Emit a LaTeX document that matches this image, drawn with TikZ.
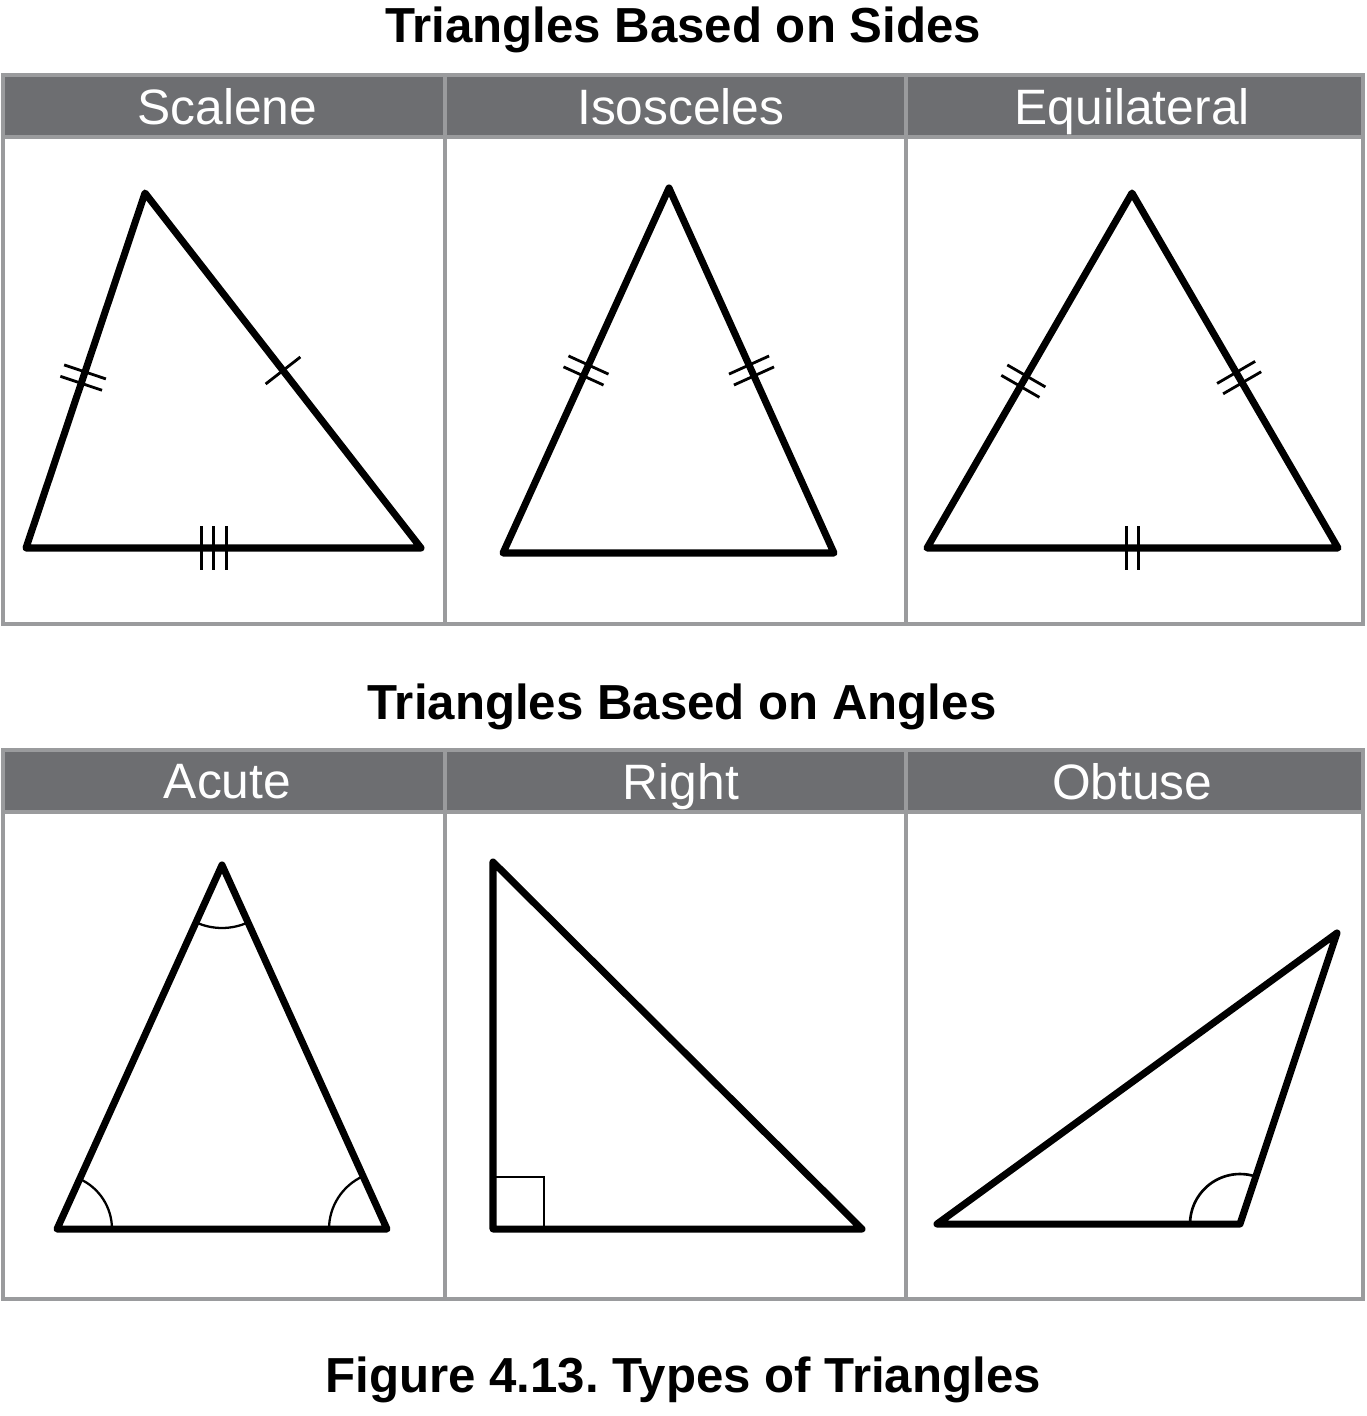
\documentclass[tikz,border=0pt]{standalone}
\usepackage{fontspec}
\setmainfont{Liberation Sans}
\usepackage{tikz}
\usetikzlibrary{positioning,calc,angles}
\definecolor{hdgray}{HTML}{6D6E71}
\definecolor{rulegray}{HTML}{9A9B9D}
\tikzset{
  hcell/.style={rectangle, draw=rulegray, fill=hdgray, line width=2.2pt, text=white,
                inner sep=0pt, outer sep=0pt, minimum height=1.24cm, anchor=north west,
                font=\fontsize{28.3}{32}\selectfont, text depth=0pt, align=center},
  bcell/.style={rectangle, draw=rulegray, line width=2.2pt, inner sep=0pt, outer sep=0pt,
                minimum height=9.75cm, anchor=north west},
  ttl/.style  ={font=\fontsize{28}{32}\selectfont\bfseries\frenchspacing, anchor=base, inner sep=0pt},
  tri/.style  ={line width=4pt, line join=round, line cap=round},
  tk/.style   ={line width=1.6pt},
  ang/.style  ={draw, line width=1.3pt},
}
\newcommand{\sidetick}[4]{% side #1--#2, at fraction #3, moved #4 along the side
  \coordinate (tm) at ($(#1)!#3!(#2)$);
  \coordinate (tn) at ($(tm)!#4!(#2)$);
  \draw[tk] ($(tn)!0.44cm!90:(#2)$) -- ($(tn)!0.44cm!-90:(#2)$);}

\begin{document}
\begin{tikzpicture}[x=0.02cm, y=-0.02cm]
  \useasboundingbox (0,0) rectangle (1366,1416);
  % titles
  \node[ttl] (tsides)  at (683,43)   {Triangles Based on Sides};
  \node[ttl] (tangles) at (682,719)  {Triangles Based on Angles};
  \node[ttl] (tfig)    at (683,1392) {Figure 4.13. Types of Triangles};
  % table 1
  \node[hcell, text width=8.84cm] (hsc) at (3,75) {\hspace*{0.14cm}Scalene};
  \node[hcell, text width=9.22cm, right=0mm of hsc] (his) {\hspace*{0.22cm}Isosceles};
  \node[hcell, text width=9.14cm, right=0mm of his] (heq) {Equilateral\hspace*{0.08cm}};
  \node[bcell, minimum width=8.84cm, below=0mm of hsc] (bsc) {};
  \node[bcell, minimum width=9.22cm, below=0mm of his] (bis) {};
  \node[bcell, minimum width=9.14cm, below=0mm of heq] (beq) {};
  % table 2
  \node[hcell, text width=8.84cm] (hac) at (3,750) {\hspace*{0.14cm}Acute};
  \node[hcell, text width=9.22cm, right=0mm of hac] (hrt) {\hspace*{0.22cm}Right};
  \node[hcell, text width=9.14cm, right=0mm of hrt] (hob) {Obtuse\hspace*{0.08cm}};
  \node[bcell, minimum width=8.84cm, below=0mm of hac] (bac) {};
  \node[bcell, minimum width=9.22cm, below=0mm of hrt] (brt) {};
  \node[bcell, minimum width=9.14cm, below=0mm of hob] (bob) {};

  % scalene
  \coordinate (sc1) at (145,193);
  \coordinate (sc2) at (26,548);
  \coordinate (sc3) at (421,548);
  \draw[tri] (sc1) -- (sc2) -- (sc3) -- cycle;
  \sidetick{sc1}{sc2}{0.52}{-0.12cm}
  \sidetick{sc1}{sc2}{0.52}{0.12cm}
  \sidetick{sc1}{sc3}{0.50}{0cm}
  \sidetick{sc2}{sc3}{0.475}{-0.25cm}
  \sidetick{sc2}{sc3}{0.475}{0cm}
  \sidetick{sc2}{sc3}{0.475}{0.25cm}
  % isosceles
  \coordinate (is1) at (669,188);
  \coordinate (is2) at (503,553);
  \coordinate (is3) at (834,553);
  \draw[tri] (is1) -- (is2) -- (is3) -- cycle;
  \sidetick{is1}{is2}{0.50}{-0.12cm}
  \sidetick{is1}{is2}{0.50}{0.12cm}
  \sidetick{is1}{is3}{0.50}{-0.12cm}
  \sidetick{is1}{is3}{0.50}{0.12cm}
  % equilateral
  \coordinate (eq1) at (1132,193);
  \coordinate (eq2) at (927,548);
  \coordinate (eq3) at (1338,548);
  \draw[tri] (eq1) -- (eq2) -- (eq3) -- cycle;
  \sidetick{eq1}{eq2}{0.53}{-0.12cm}
  \sidetick{eq1}{eq2}{0.53}{0.12cm}
  \sidetick{eq1}{eq3}{0.52}{-0.12cm}
  \sidetick{eq1}{eq3}{0.52}{0.12cm}
  \sidetick{eq2}{eq3}{0.50}{-0.12cm}
  \sidetick{eq2}{eq3}{0.50}{0.12cm}

  % acute
  \coordinate (ac1) at (222,865);
  \coordinate (ac2) at (57,1229);
  \coordinate (ac3) at (387,1229);
  \draw[tri] (ac1) -- (ac2) -- (ac3) -- cycle;
  \pic[ang, angle radius=1.26cm] {angle=ac2--ac1--ac3};
  \pic[ang, angle radius=1.1cm]  {angle=ac3--ac2--ac1};
  \pic[ang, angle radius=1.16cm] {angle=ac1--ac3--ac2};
  % right
  \coordinate (rt1) at (493,862);
  \coordinate (rt2) at (493,1229);
  \coordinate (rt3) at (862,1229);
  \draw[tri] (rt1) -- (rt2) -- (rt3) -- cycle;
  \draw[tk] ($(rt2)+(0,-52)$) -- ++(51,0) -- ++(0,52);
  % obtuse
  \coordinate (ob1) at (937,1224);
  \coordinate (ob2) at (1240,1224);
  \coordinate (ob3) at (1337,933);
  \draw[tri] (ob1) -- (ob2) -- (ob3) -- cycle;
  \pic[ang, line width=1.5pt, angle radius=1.0cm] {angle=ob3--ob2--ob1};
\end{tikzpicture}
\end{document}
